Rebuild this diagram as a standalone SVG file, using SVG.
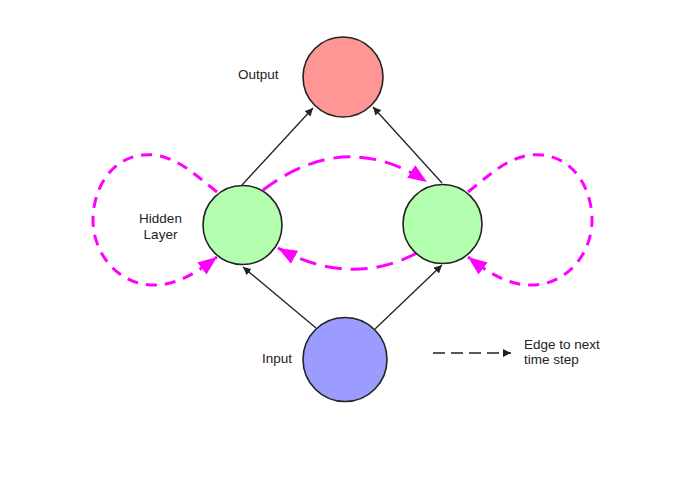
<svg xmlns="http://www.w3.org/2000/svg" width="684" height="485" viewBox="0 0 684 485">
<style>
.node{stroke:#222;stroke-width:1.6}
.lbl{font-family:"Liberation Sans",Arial,sans-serif;font-size:13.5px;fill:#222}
.edge{stroke:#222;stroke-width:1.3;fill:none}
.rec{stroke:#ff00ff;stroke-width:3;fill:none;stroke-dasharray:11 8}
.arc{stroke-dasharray:17 9}
.leg{stroke:#222;stroke-width:1.6;fill:none;stroke-dasharray:12 6}
</style>
<defs>
<marker id="ah" markerUnits="userSpaceOnUse" markerWidth="10" markerHeight="8" refX="8" refY="4" orient="auto">
<path d="M0,0 L8,4 L0,8 Z" fill="#222"/>
</marker>
<marker id="mh" markerUnits="userSpaceOnUse" markerWidth="20" markerHeight="16" refX="19" refY="7.5" orient="auto">
<path d="M0,0 L19,7.5 L0,15 Z" fill="#ff00ff"/>
</marker>
</defs>
<rect width="684" height="485" fill="#fff"/>
<g id="connectors">
<line class="edge" x1="242" y1="185" x2="313" y2="108" marker-end="url(#ah)"/>
<line class="edge" x1="442" y1="183" x2="373" y2="107" marker-end="url(#ah)"/>
<line class="edge" x1="316" y1="328" x2="243" y2="267" marker-end="url(#ah)"/>
<line class="edge" x1="375" y1="329" x2="442" y2="265" marker-end="url(#ah)"/>
<path class="rec arc" d="M263,190 Q345,128 427,182" marker-end="url(#mh)"/>
<path class="rec arc" d="M417,253 Q350,288 278,248" marker-end="url(#mh)"/>
<path class="rec" d="M217,192 C190,170 170,152 143,155 C110,158 93,190 93,220 C93,255 120,287 157,285 C180,284 200,270 217,257" marker-end="url(#mh)"/>
<path class="rec" d="M468,192 C495,170 515,152 542,155 C575,158 592,190 592,220 C592,255 565,287 528,285 C505,284 485,270 468,257" marker-end="url(#mh)"/>
</g>
<g id="output">
<circle class="node" cx="343" cy="77" r="40" fill="#ff9696"/>
<text class="lbl" x="238" y="79">Output</text>
</g>
<g id="hidden-left">
<circle class="node" cx="242.5" cy="225" r="39.5" fill="#b3ffaf"/>
<text class="lbl" x="160.5" y="223" text-anchor="middle">Hidden</text>
<text class="lbl" x="160.5" y="239" text-anchor="middle">Layer</text>
</g>
<g id="hidden-right">
<circle class="node" cx="442.5" cy="224" r="39.5" fill="#b3ffaf"/>
</g>
<g id="input">
<circle class="node" cx="345" cy="359.5" r="42" fill="#9c9cff"/>
<text class="lbl" x="262" y="363">Input</text>
</g>
<g id="legend">
<line class="leg" x1="433" y1="353" x2="511" y2="353" marker-end="url(#ah)"/>
<text class="lbl" x="524" y="349">Edge to next</text>
<text class="lbl" x="524" y="364">time step</text>
</g>
</svg>
